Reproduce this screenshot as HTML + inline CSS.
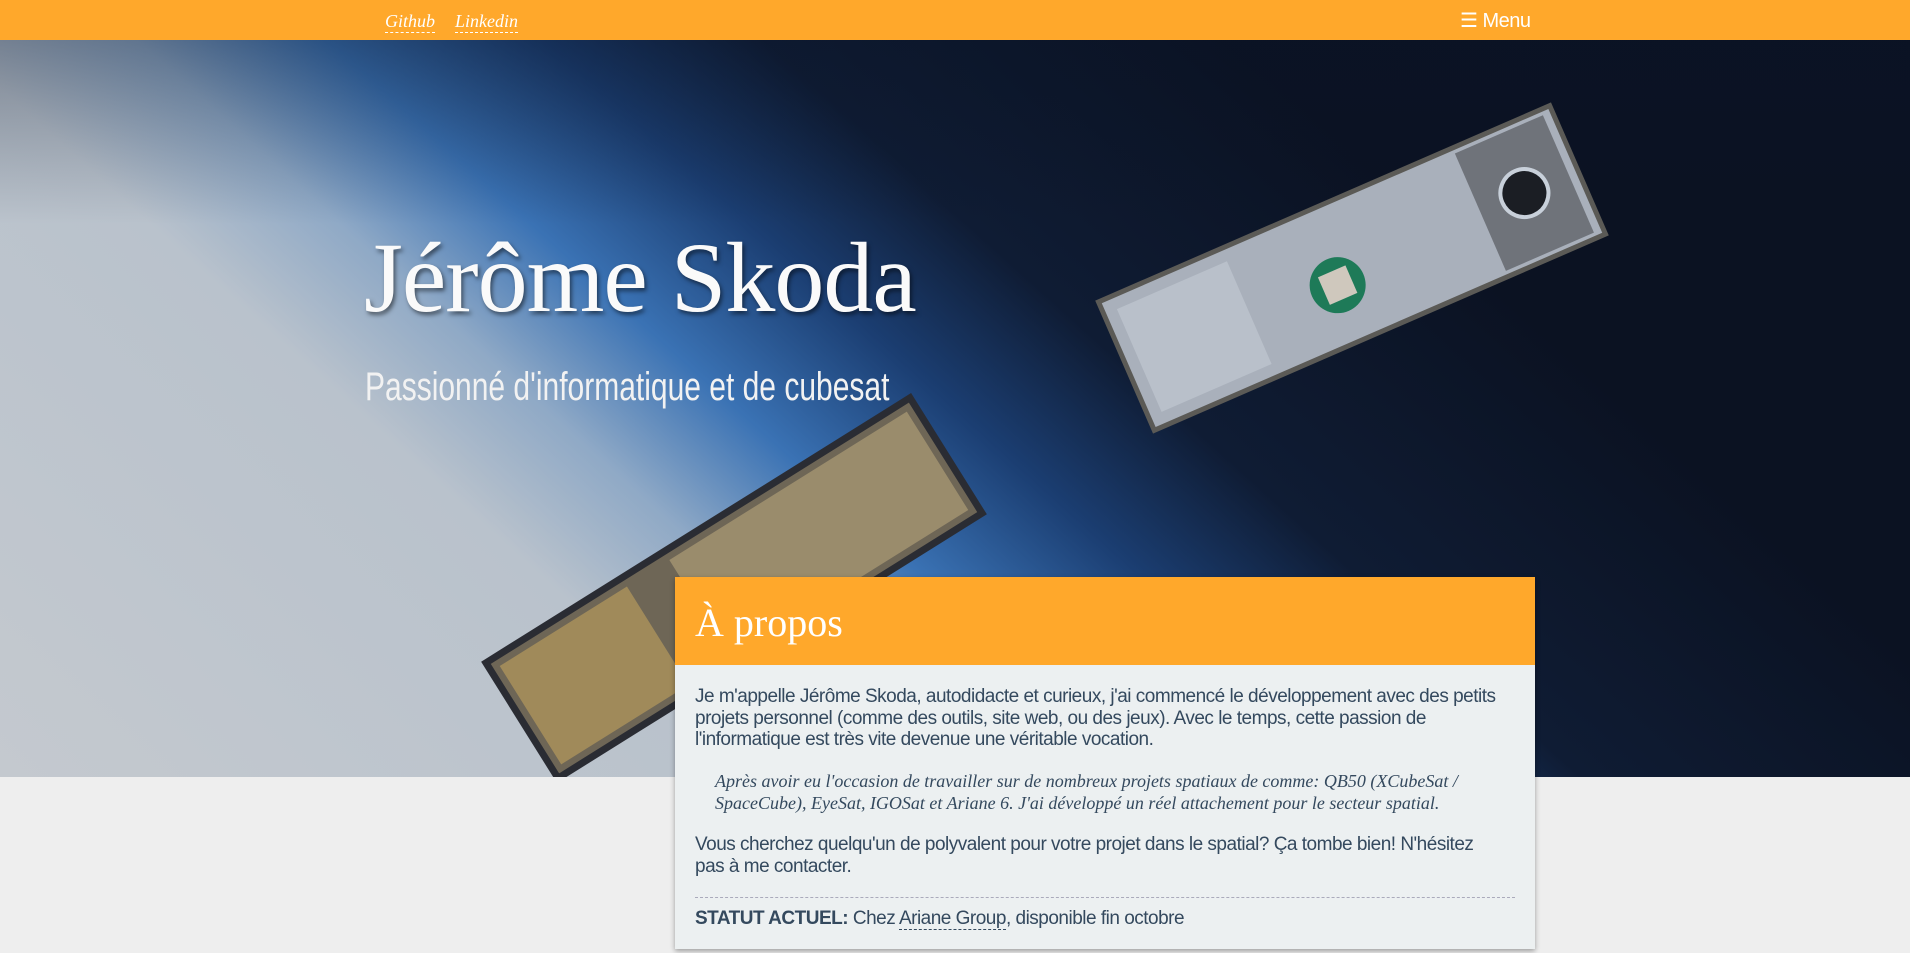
<!DOCTYPE html>
<html><head><meta charset="utf-8">
<style>
*{margin:0;padding:0;box-sizing:border-box}
body{width:1910px;height:953px;overflow:hidden;background:#eeeeee;font-family:"Liberation Sans",sans-serif;position:relative}
#nav{position:absolute;left:0;top:0;width:1910px;height:40px;background:#ffa82b;z-index:5}
.nl{position:absolute;top:10px;font-family:"Liberation Serif",serif;font-style:italic;font-size:18px;color:#fff;border-bottom:1px dashed #fff;line-height:22px;text-decoration:none}
#menu{position:absolute;left:1460px;top:8px;color:#fff;font-size:20px;letter-spacing:-0.5px}
#hero{position:absolute;left:0;top:40px;width:1910px;height:737px;overflow:hidden;
background:linear-gradient(42deg,#c4c9cf 0%,#b9c2cc 28%,#8fa9c6 35%,#3a72b4 42%,#1b3e72 50%,#0f1c34 58%,#0b1222 75%,#0b1222 100%)}
#hero:after{content:"";position:absolute;inset:0;background:linear-gradient(180deg,rgba(10,20,40,.35),rgba(0,0,0,0) 25%)}
.sat{position:absolute;left:0;top:0;z-index:1}
#title{position:absolute;left:364px;top:180px;font-family:"Liberation Serif",serif;font-size:100px;color:#fafafa;text-shadow:2px 3px 4px rgba(0,0,0,.5);z-index:2;letter-spacing:-1px}
#sub{position:absolute;left:365px;top:325px;font-size:40px;color:#f2f2f2;z-index:2;transform:scaleX(.75);transform-origin:left;white-space:nowrap}
#card{position:absolute;left:675px;top:577px;width:860px;height:372px;background:#ecf0f1;box-shadow:0 2px 5px rgba(0,0,0,.35);z-index:3}
#ch{height:88px;background:#ffa82b;padding:22px 20px}
#ch h2{font-family:"Liberation Serif",serif;font-weight:normal;font-size:40px;color:#fff}
.p{position:absolute;left:20px;width:822px;font-size:19px;color:#34495e;line-height:21.5px;letter-spacing:-0.5px}
.q{font-family:"Liberation Serif",serif;font-style:italic;font-size:18px;line-height:21.5px;letter-spacing:0}
#hr{position:absolute;left:20px;top:320px;width:820px;border-top:1px dashed #aab}
</style></head><body>
<div id="nav">
<a class="nl" style="left:385px">Github</a>
<a class="nl" style="left:455px">Linkedin</a>
<div id="menu"><span style="font-size:20px">&#9776;</span> Menu</div>
</div>
<div id="hero">
<svg class="sat" width="1910" height="737">
<g transform="translate(1352,228) rotate(-23.5)">
<rect x="-246" y="-70" width="492" height="140" fill="#a9b0bb" stroke="#5b5a56" stroke-width="5"/>
<rect x="-232" y="-56" width="120" height="112" fill="#b9c0ca"/>
<rect x="140" y="-64" width="96" height="128" fill="#6f737a"/>
<circle cx="188" cy="0" r="24" fill="#1b1e24" stroke="#c8d0da" stroke-width="4"/>
<circle cx="-20" cy="10" r="28" fill="#1e7a58"/>
<rect x="-35" y="-5" width="30" height="30" fill="#cfc8bd"/>
</g>
<g transform="translate(734,548) rotate(-32)">
<rect x="-250" y="-68" width="500" height="136" fill="#6e6656" stroke="#2a2c33" stroke-width="7"/>
<rect x="-40" y="-58" width="280" height="116" fill="#9a8c6c"/>
<rect x="-240" y="-58" width="150" height="116" fill="#a08a5a"/>
</g>
</svg>
<div id="title">Jérôme Skoda</div>
<div id="sub">Passionné d'informatique et de cubesat</div>
</div>
<div id="card">
<div id="ch"><h2>À propos</h2></div>
<div class="p" style="top:109px">Je m'appelle Jérôme Skoda, autodidacte et curieux, j'ai commencé le développement avec des petits projets personnel (comme des outils, site web, ou des jeux). Avec le temps, cette passion de l'informatique est très vite devenue une véritable vocation.</div>
<div class="p q" style="top:194px;left:40px;width:790px">Après avoir eu l'occasion de travailler sur de nombreux projets spatiaux de comme: QB50 (XCubeSat / SpaceCube), EyeSat, IGOSat et Ariane 6. J'ai développé un réel attachement pour le secteur spatial.</div>
<div class="p" style="top:257px;width:810px">Vous cherchez quelqu'un de polyvalent pour votre projet dans le spatial? Ça tombe bien! N'hésitez pas à me contacter.</div>
<div id="hr"></div>
<div class="p" style="top:331px"><b>STATUT ACTUEL:</b> Chez <span style="border-bottom:1px dashed #34495e">Ariane Group</span>, disponible fin octobre</div>
</div>
</body></html>
